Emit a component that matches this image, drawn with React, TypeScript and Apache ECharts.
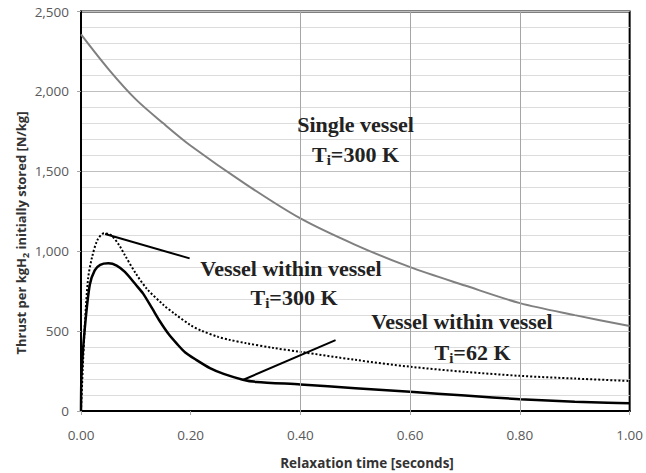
import React, { useEffect, useRef } from 'react';
import * as echarts from 'echarts';

// Single vessel, Ti = 300 K (gray)
const singleX = [0, 0.05, 0.1, 0.15, 0.2, 0.3, 0.4, 0.5, 0.6, 0.7, 0.8, 0.9, 1.0];
const singleY = [2357, 2140, 1950, 1800, 1660, 1420, 1205, 1040, 900, 785, 675, 600, 532];

// Vessel within vessel, Ti = 300 K (dotted)
const vv300X = [0, 0.003, 0.007, 0.013, 0.02, 0.03, 0.042, 0.055, 0.07, 0.08, 0.1, 0.12, 0.15, 0.17, 0.2, 0.22, 0.25, 0.27, 0.3, 0.35, 0.4, 0.5, 0.6, 0.7, 0.8, 0.9, 1.0];
const vv300Y = [0, 250, 540, 830, 960, 1070, 1112, 1100, 1035, 975, 860, 765, 665, 610, 537, 502, 464, 446, 425, 395, 370, 320, 277, 245, 220, 203, 188];

// Vessel within vessel, Ti = 62 K (solid black)
const vv62X = [0, 0.001, 0.007, 0.016, 0.025, 0.035, 0.05, 0.065, 0.08, 0.1, 0.113, 0.13, 0.144, 0.16, 0.175, 0.19, 0.21, 0.235, 0.26, 0.295, 0.32, 0.4, 0.5, 0.6, 0.7, 0.8, 0.9, 0.96, 1.0];
const vv62Y = [0, 230, 520, 790, 880, 915, 924, 910, 870, 790, 736, 640, 560, 480, 420, 366, 320, 268, 232, 196, 182, 166, 143, 120, 97, 74, 58, 52, 48];

// Leader lines for annotations
const lead1X = [0.044, 0.198];
const lead1Y = [1108, 955];
const lead2X = [0.295, 0.464];
const lead2Y = [194, 444];

// Vertical gridlines visible in the reference
const vGridX = [0.4, 0.6, 0.8];

const xTicks = { min: 0, max: 1, interval: 0.2 };
const yTicks = { min: 0, max: 2500, interval: 500 };

const zip = (xs: number[], ys: number[]) => xs.map((x, i) => [x, ys[i]]);

const SERIF = '"Liberation Serif", "Times New Roman", serif';
const SANS = '"Open Sans", "Liberation Sans", sans-serif';

const annoRich = {
  t: { fontFamily: SERIF, fontWeight: 'bold', fontSize: 22, lineHeight: 26, verticalAlign: 'middle', fill: '#222', color: '#222' },
  s: { fontFamily: SERIF, fontWeight: 'bold', fontSize: 15, lineHeight: 15, verticalAlign: 'bottom', fill: '#222', color: '#222' },
};

function anno(text: string, x: number, y: number) {
  return {
    type: 'text',
    x,
    y,
    silent: true,
    z: 10,
    style: {
      text,
      rich: annoRich,
      fill: '#222',
      font: `bold 22px ${SERIF}`,
      align: 'center',
      verticalAlign: 'middle',
    },
  };
}

export default function App() {
  const ref = useRef<HTMLDivElement>(null);
  useEffect(() => {
    if (!ref.current) return;
    const chart = echarts.init(ref.current, undefined, { renderer: 'svg' });
    const option: any = {
      animation: false,
      backgroundColor: '#fff',
      grid: {
        left: 81,
        right: 15,
        top: 11.5,
        bottom: 62,
        show: true,
        borderColor: '#000',
        borderWidth: 2,
        backgroundColor: 'transparent',
      },
      xAxis: {
        type: 'value',
        min: xTicks.min,
        max: xTicks.max,
        interval: xTicks.interval,
        axisLine: { show: true, onZero: false, lineStyle: { color: '#000', width: 2 } },
        axisTick: { show: true, length: 4, lineStyle: { color: '#a6a6a6' } },
        axisLabel: {
          margin: 17,
          color: '#595959',
          fontFamily: SANS,
          fontSize: 13.5,
          formatter: (v: number) => v.toFixed(2),
        },
        splitLine: { show: false },
      },
      yAxis: {
        type: 'value',
        min: yTicks.min,
        max: yTicks.max,
        interval: yTicks.interval,
        axisLine: { show: true, onZero: false, lineStyle: { color: '#000', width: 2 } },
        axisTick: { show: true, length: 4, lineStyle: { color: '#a6a6a6' } },
        axisLabel: {
          margin: 12,
          color: '#595959',
          fontFamily: SANS,
          fontSize: 13.5,
          formatter: (v: number) => v.toLocaleString('en-US'),
        },
        splitLine: { show: true, lineStyle: { color: '#bfbfbf', width: 1 } },
        minorTick: { show: false, splitNumber: 5 },
        minorSplitLine: { show: true, lineStyle: { color: '#dcdcdc', width: 1 } },
      },
      series: [
        {
          type: 'line',
          data: [],
          z: 1,
          silent: true,
          markLine: {
            silent: true,
            symbol: 'none',
            label: { show: false },
            lineStyle: { color: '#a6a6a6', width: 1, type: 'solid' },
            data: vGridX.map((x) => ({ xAxis: x })),
          },
        },
        {
          name: 'Single vessel',
          type: 'line',
          data: zip(singleX, singleY),
          smooth: 0.3,
          showSymbol: false,
          lineStyle: { color: '#808080', width: 2 },
          z: 3,
        },
        {
          name: 'Vessel within vessel 300 K',
          type: 'line',
          data: zip(vv300X, vv300Y),
          smooth: 0.3,
          showSymbol: false,
          lineStyle: { color: '#000', width: 2, type: [2, 2] },
          z: 3,
        },
        {
          name: 'Vessel within vessel 62 K',
          type: 'line',
          data: zip(vv62X, vv62Y),
          smooth: 0.25,
          showSymbol: false,
          lineStyle: { color: '#000', width: 2.5 },
          z: 4,
        },
        {
          type: 'line',
          data: zip(lead1X, lead1Y),
          showSymbol: false,
          lineStyle: { color: '#000', width: 2 },
          z: 5,
        },
        {
          type: 'line',
          data: zip(lead2X, lead2Y),
          showSymbol: false,
          lineStyle: { color: '#000', width: 2 },
          z: 5,
        },
      ],
      graphic: [
        anno('{t|Single vessel}', 355.5, 124),
        anno('{t|T}{s|i}{t|=300 K}', 355.5, 154),
        anno('{t|Vessel within vessel}', 291, 268),
        anno('{t|T}{s|i}{t|=300 K}', 294, 297),
        anno('{t|Vessel within vessel}', 462, 321),
        anno('{t|T}{s|i}{t|=62 K}', 472.5, 352),
        {
          type: 'text',
          x: 21,
          y: 233,
          rotation: Math.PI / 2,
          silent: true,
          style: {
            text: '{a|Thrust per kgH}{b|2}{a| initially stored [N/kg]}',
            rich: {
              a: { fontFamily: SANS, fontWeight: 'bold', fontSize: 13, lineHeight: 17, verticalAlign: 'middle', fill: '#333' },
              b: { fontFamily: SANS, fontWeight: 'bold', fontSize: 9, lineHeight: 9, verticalAlign: 'bottom', fill: '#333' },
            },
            fill: '#333',
            align: 'center',
            verticalAlign: 'middle',
          },
        },
        {
          type: 'text',
          x: 367,
          y: 463,
          silent: true,
          style: {
            text: 'Relaxation time [seconds]',
            font: `bold 13.5px ${SANS}`,
            fill: '#333',
            align: 'center',
            verticalAlign: 'middle',
          },
        },
      ],
    };
    chart.setOption(option);
    return () => chart.dispose();
  }, []);
  return <div ref={ref} style={{ width: 646, height: 473, position: 'absolute', left: 0, top: 0 }} />;
}
